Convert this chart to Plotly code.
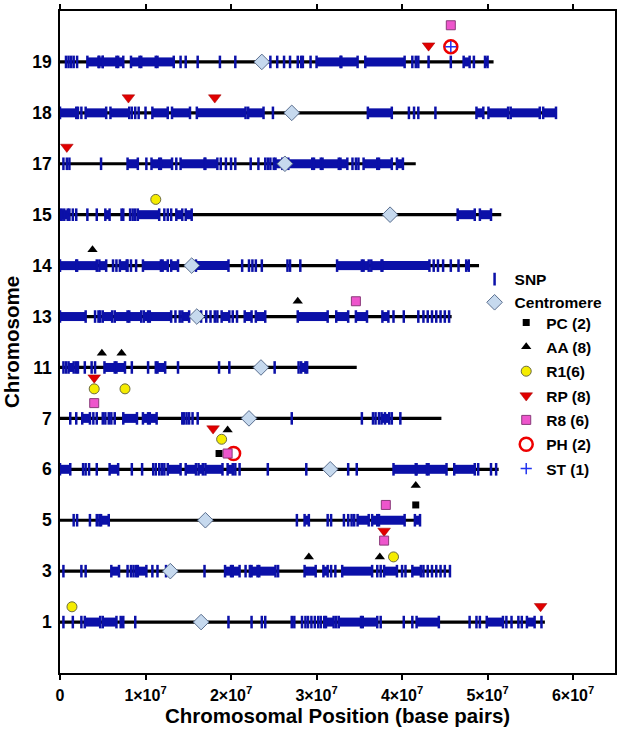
import plotly.graph_objects as go

# ---------------- data (positions in Mb) ----------------
chromosomes = [1, 3, 5, 6, 7, 11, 13, 14, 15, 17, 18, 19]
chrom_length_mb = [56.7, 45.7, 42.2, 51.3, 44.6, 34.7, 45.8, 49.0, 51.6, 41.6, 58.0, 50.7]
centromere_mb = [16.5, 12.9, 17.0, 31.6, 22.1, 23.5, 16.0, 15.4, 38.6, 26.3, 27.1, 23.6]

# single SNP ticks and dense SNP clusters (start, end) per chromosome
snp_1 = [0.4, 1.5, 2.5, 8.8, 19.7, 22.4, 23.6, 24.0, 27.1, 27.4, 28.3, 28.7, 29.0, 29.4, 29.8,
         30.2, 30.5, 30.9, 32.3, 37.5, 40.2, 41.2, 47.9, 48.7, 49.1, 52.2, 52.8, 53.6, 54.0, 56.3]
blocks_1 = [(2.9, 4.7), (5.0, 6.6), (7.1, 7.4), (31.1, 32.0), (32.6, 35.2), (35.4, 37.1),
            (41.7, 44.3), (49.9, 51.8), (54.6, 55.5)]

snp_3 = [0.4, 2.5, 3.0, 7.9, 8.3, 8.6, 8.9, 10.8, 11.4, 12.4, 16.9, 21.7, 22.2, 25.5, 31.7, 32.2,
         37.1, 37.5, 40.0, 40.4, 42.5, 43.0, 43.5, 44.0, 44.5, 45.0, 45.6]
blocks_3 = [(6.0, 6.9), (9.1, 10.1), (19.3, 20.0), (20.2, 21.0), (22.4, 23.1), (23.3, 25.2),
            (28.6, 29.9), (30.8, 31.3), (33.0, 36.5), (37.9, 39.4), (41.2, 42.2)]

snp_5 = [1.6, 2.0, 3.5, 4.3, 4.6, 27.7, 31.3, 31.7, 33.2, 33.7, 34.1, 34.4]
blocks_5 = [(4.8, 5.7), (28.6, 29.1), (34.8, 36.1), (36.5, 37.1), (37.3, 40.3), (41.5, 42.1)]

snp_6 = [2.7, 3.0, 3.4, 4.3, 8.4, 9.6, 10.9, 11.2, 11.6, 11.9, 12.2, 20.5, 21.0, 24.3, 28.8,
         33.7, 34.7, 48.9, 50.4, 51.0]
blocks_6 = [(0.0, 1.2), (5.8, 6.8), (12.6, 14.1), (14.7, 15.9), (16.2, 16.7), (17.0, 19.0),
            (19.6, 20.2), (39.0, 41.6), (41.7, 42.9), (43.1, 45.2), (46.1, 48.5)]

snp_7 = [1.2, 1.9, 3.9, 4.3, 5.0, 5.3, 5.7, 6.0, 6.4, 14.3, 14.5, 14.8, 15.1, 15.5, 16.1, 27.1,
         35.3, 36.6, 36.9, 37.3, 38.0, 38.8, 39.8]
blocks_7 = [(2.6, 3.5), (7.4, 9.0), (9.7, 10.3), (10.5, 11.3), (37.6, 38.5)]

snp_11 = [0.4, 0.7, 1.9, 2.1, 2.9, 3.7, 4.1, 8.4, 10.3, 11.2, 13.8, 18.6, 19.8, 25.1, 27.9, 28.9]
blocks_11 = [(1.0, 1.6), (5.2, 6.4), (6.6, 7.6), (11.4, 12.3), (28.2, 28.7)]

snp_13 = [4.1, 4.5, 4.7, 13.5, 14.0, 16.5, 17.1, 17.6, 18.1, 18.4, 20.2, 20.7, 39.0, 40.2,
          41.9, 42.5, 43.0, 43.5, 44.0, 44.5, 45.0, 45.5]
blocks_13 = [(0.0, 3.0), (5.0, 6.1), (6.4, 7.9), (8.1, 9.5), (9.8, 10.3), (10.5, 13.0),
             (14.3, 15.1), (18.9, 19.8), (21.6, 22.4), (22.9, 24.0), (27.8, 31.3), (32.3, 33.7),
             (34.6, 35.9), (37.7, 38.4)]

snp_14 = [6.2, 6.6, 7.9, 8.3, 8.9, 21.3, 22.1, 22.5, 22.9, 23.6, 26.6, 26.9, 28.1, 43.7, 44.2,
          44.8, 45.7, 46.6]
blocks_14 = [(0.0, 1.9), (2.0, 4.3), (4.6, 5.4), (7.0, 7.8), (9.7, 11.8), (12.0, 12.6),
             (13.0, 13.8), (15.9, 19.7), (32.4, 35.3), (35.5, 36.1), (36.4, 37.6), (37.7, 43.2),
             (47.5, 47.8)]

snp_15 = [0.2, 0.5, 1.1, 1.5, 1.9, 3.2, 4.3, 7.2, 7.4, 8.2, 8.5, 8.8, 12.2, 12.6, 13.0]
blocks_15 = [(0.0, 0.9), (5.3, 5.8), (9.1, 11.6), (13.6, 14.3), (14.7, 15.4), (46.5, 48.5),
             (49.1, 50.4)]

snp_17 = [0.4, 0.8, 1.1, 4.8, 10.1, 13.6, 18.8, 19.4, 20.0, 20.5, 22.3, 23.2, 24.0, 24.3, 24.6,
          25.0, 34.2, 34.6, 34.9]
blocks_17 = [(7.9, 9.1), (10.7, 11.6), (11.8, 13.1), (14.1, 16.9), (17.0, 18.4), (25.2, 26.0),
             (26.7, 29.5), (29.7, 30.5), (30.7, 32.6), (32.8, 33.6), (35.5, 37.1), (37.3, 38.8),
             (39.4, 40.1)]

snp_18 = [2.1, 2.5, 8.4, 8.8, 9.2, 10.0, 24.9, 40.8, 41.4, 41.9, 43.9]
blocks_18 = [(0.0, 1.9), (3.0, 5.4), (5.9, 8.1), (10.8, 12.6), (13.1, 15.2), (16.0, 21.7),
             (22.0, 23.8), (36.0, 38.8), (48.7, 49.5), (50.1, 52.4), (52.7, 56.1), (56.5, 58.0)]

snp_19 = [0.7, 1.0, 1.3, 1.6, 2.0, 14.1, 14.7, 16.1, 18.7, 20.5, 24.6, 25.4, 26.2, 26.9, 27.8,
          28.2, 28.4, 29.3, 41.2, 41.6, 41.9, 43.1, 45.7, 48.4]
blocks_19 = [(3.2, 4.5), (4.6, 5.0), (5.0, 6.6), (6.8, 7.4), (8.3, 9.3), (9.5, 11.2),
             (11.4, 13.3), (30.0, 32.8), (32.9, 34.8), (35.7, 40.3), (47.2, 47.9), (49.7, 50.0)]

snp_lists = [snp_1, snp_3, snp_5, snp_6, snp_7, snp_11, snp_13, snp_14, snp_15, snp_17, snp_18, snp_19]
block_lists = [blocks_1, blocks_3, blocks_5, blocks_6, blocks_7, blocks_11, blocks_13, blocks_14,
               blocks_15, blocks_17, blocks_18, blocks_19]

# events: chromosome, position (Mb), stacking offset above the chromosome line (rows)
pc_chrom = [6, 5]
pc_pos = [18.6, 41.6]
pc_off = [0.31, 0.30]

aa_chrom = [14, 13, 11, 11, 6, 5, 3, 3]
aa_pos = [3.8, 27.8, 4.9, 7.2, 19.6, 41.6, 29.1, 37.4]
aa_off = [0.31, 0.30, 0.28, 0.28, 0.77, 0.68, 0.28, 0.28]

r1_chrom = [15, 7, 7, 6, 3, 1]
r1_pos = [11.2, 4.0, 7.6, 18.9, 39.0, 1.4]
r1_off = [0.30, 0.58, 0.58, 0.59, 0.28, 0.30]

rp_chrom = [19, 18, 18, 17, 7, 6, 3, 1]
rp_pos = [43.1, 8.0, 18.1, 0.8, 4.0, 17.9, 37.9, 56.2]
rp_off = [0.32, 0.30, 0.30, 0.33, 0.80, 0.80, 0.79, 0.31]

r8_chrom = [19, 13, 7, 6, 5, 3]
r8_pos = [45.7, 34.6, 4.0, 19.6, 38.1, 37.9]
r8_off = [0.72, 0.30, 0.30, 0.31, 0.30, 0.60]

ph_chrom = [19, 6]
ph_pos = [45.7, 20.3]
ph_off = [0.30, 0.31]

st_chrom = [19]
st_pos = [45.7]
st_off = [0.30]

x_tick_vals = [0, 1e7, 2e7, 3e7, 4e7, 5e7, 6e7]
x_tick_text = ["0", "1×10<sup>7</sup>", "2×10<sup>7</sup>", "3×10<sup>7</sup>",
               "4×10<sup>7</sup>", "5×10<sup>7</sup>", "6×10<sup>7</sup>"]

# ---------------- figure ----------------
MB = 1e6
row = {c: i for i, c in enumerate(chromosomes)}
SNP_BLUE = "#0b10a8"
FONT = "Liberation Sans, Arial, sans-serif"

fig = go.Figure()

# chromosome backbone lines
lx, ly = [], []
for i, L in enumerate(chrom_length_mb):
    lx += [0, L * MB, None]
    ly += [i, i, None]
fig.add_trace(go.Scatter(x=lx, y=ly, mode="lines", line=dict(color="black", width=3.2),
                         showlegend=False, hoverinfo="skip"))

# SNP clusters
bx, by = [], []
for i, bl in enumerate(block_lists):
    for s, e in bl:
        bx += [s * MB, e * MB, None]
        by += [i, i, None]
fig.add_trace(go.Scatter(x=bx, y=by, mode="lines", line=dict(color=SNP_BLUE, width=9),
                         showlegend=False, hoverinfo="skip"))
# cluster edges as ticks
ex, ey = [], []
for i, bl in enumerate(block_lists):
    for s, e in bl:
        ex += [s * MB, e * MB]
        ey += [i, i]
fig.add_trace(go.Scatter(x=ex, y=ey, mode="markers", showlegend=False, hoverinfo="skip",
                         marker=dict(symbol="line-ns", size=9,
                                     line=dict(color=SNP_BLUE, width=2.5))))

# single SNP ticks
sx, sy = [], []
for i, sl in enumerate(snp_lists):
    sx += [p * MB for p in sl]
    sy += [i] * len(sl)
fig.add_trace(go.Scatter(x=sx, y=sy, mode="markers", name="SNP", legend="legend",
                         marker=dict(symbol="line-ns", size=9,
                                     line=dict(color=SNP_BLUE, width=2.5))))

# centromeres
fig.add_trace(go.Scatter(x=[c * MB for c in centromere_mb], y=list(range(len(chromosomes))),
                         mode="markers", name="Centromere", legend="legend",
                         marker=dict(symbol="diamond", size=12, color="#c6d9ee",
                                     line=dict(color="#5a6e8e", width=1))))


def ev(chrom, pos, off):
    return [p * MB for p in pos], [row[c] + o for c, o in zip(chrom, off)]


events = [
    ("PC (2)", pc_chrom, pc_pos, pc_off, dict(symbol="square", size=7, color="black")),
    ("AA (8)", aa_chrom, aa_pos, aa_off, dict(symbol="triangle-up", size=9, color="black")),
    ("R1(6)", r1_chrom, r1_pos, r1_off,
     dict(symbol="circle", size=10, color="#f5ec00", line=dict(color="#6b6b40", width=1))),
    ("RP (8)", rp_chrom, rp_pos, rp_off,
     dict(symbol="triangle-down", size=11, color="#e00000", line=dict(color="#a00000", width=0.5))),
    ("PH (2)", ph_chrom, ph_pos, ph_off,
     dict(symbol="circle-open", size=13, color="#ee0000", line=dict(color="#ee0000", width=2.5))),
    ("R8 (6)", r8_chrom, r8_pos, r8_off,
     dict(symbol="square", size=9, color="#ee55cc", line=dict(color="#8a3a7a", width=1))),
    ("ST (1)", st_chrom, st_pos, st_off,
     dict(symbol="cross-thin", size=8, color="#2233ee", line=dict(color="#2233ee", width=1.5))),
]
legend_order = {"PC (2)": 1, "AA (8)": 2, "R1(6)": 3, "RP (8)": 4, "R8 (6)": 5, "PH (2)": 6, "ST (1)": 7}
for name, c, p, o, mk in events:
    x, y = ev(c, p, o)
    fig.add_trace(go.Scatter(x=x, y=y, mode="markers", name=name, marker=mk,
                             legend="legend2", legendrank=legend_order[name],
                             legendgroup=name))

fig.update_layout(
    width=621, height=734,
    margin=dict(l=60, r=4, t=9, b=61),
    plot_bgcolor="white", paper_bgcolor="white",
    font=dict(family=FONT, color="black", size=15, weight="bold"),
    legend=dict(x=0.747, y=0.62, xanchor="left", yanchor="top", bgcolor="rgba(0,0,0,0)",
                font=dict(size=15.5, weight="bold"), tracegroupgap=0),
    legend2=dict(x=0.804, y=0.5545, xanchor="left", yanchor="top", bgcolor="rgba(0,0,0,0)",
                 font=dict(size=15.5, weight="bold"), tracegroupgap=1.2),
    xaxis=dict(range=[0, 64.9e6], tickvals=x_tick_vals, ticktext=x_tick_text,
               ticks="outside", ticklen=5, tickwidth=1.5, tickcolor="black",
               showline=True, linewidth=1.5, linecolor="black", mirror="allticks",
               showgrid=False, zeroline=False, ticklabelstandoff=2,
               tickfont=dict(size=16, weight="bold")),
    yaxis=dict(range=[-1, 12], tickvals=list(range(len(chromosomes))),
               ticktext=[str(c) for c in chromosomes], ticks="",
               showline=True, linewidth=1.5, linecolor="black", mirror=True,
               showgrid=False, zeroline=False, ticklabelstandoff=3,
               tickfont=dict(size=17.5, weight="bold"),
               title=dict(text="Chromosome", font=dict(size=20.5, weight="bold"), standoff=8)),
    annotations=[dict(text="Chromosomal Position (base pairs)", xref="paper", yref="paper",
                      x=0.5, y=-0.0645, xanchor="center", yanchor="middle", showarrow=False,
                      font=dict(size=20.5, weight="bold"))],
)

fig.write_html("out.html")
